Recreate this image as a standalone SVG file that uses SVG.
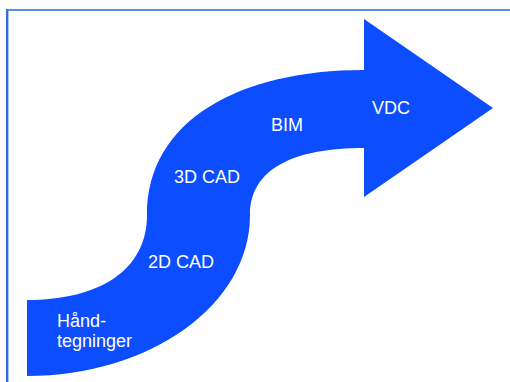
<svg xmlns="http://www.w3.org/2000/svg" width="510" height="382" viewBox="0 0 510 382">
<style>
.lbl{font-family:"Liberation Sans",Arial,sans-serif;font-size:18px;fill:#ffffff}
.arrow{fill:#0b4dff}
</style>
<rect x="0" y="0" width="510" height="382" fill="#ffffff"/>
<g id="frame">
<line x1="6" y1="10" x2="510" y2="10" stroke="#5a8ee2" stroke-width="2"/>
<line x1="7" y1="9" x2="7" y2="382" stroke="#2f6ce8" stroke-width="2"/>
<line x1="8.5" y1="11" x2="8.5" y2="382" stroke="#a9c4f2" stroke-width="1"/>
</g>
<g id="arrow">
<path class="arrow" d="M27 300 C100 300 147 270 147 215 C147 120 240 70 364 70 L364 19 L493 108 L364 197 L364 148 C295 148 250 168 250 215 C250 305 150 376 27 376 Z"/>
</g>
<g id="labels">
<g id="n-hand"><text class="lbl" x="57" y="327">Hånd-</text><text class="lbl" x="57" y="347">tegninger</text></g>
<g id="n-2dcad"><text class="lbl" x="148" y="268">2D CAD</text></g>
<g id="n-3dcad"><text class="lbl" x="174" y="183">3D CAD</text></g>
<g id="n-bim"><text class="lbl" x="271" y="131">BIM</text></g>
<g id="n-vdc"><text class="lbl" x="372" y="114">VDC</text></g>
</g>
</svg>
